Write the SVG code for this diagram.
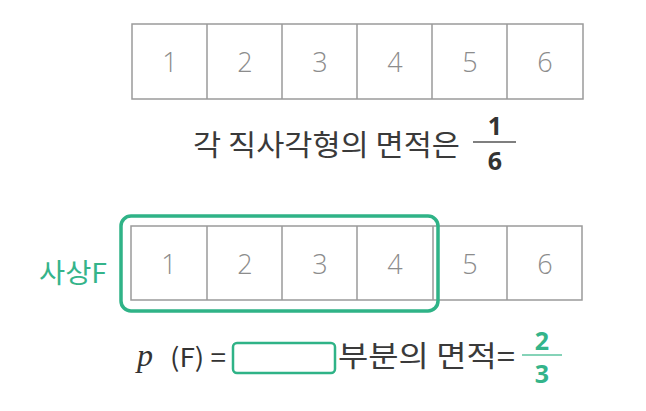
<svg xmlns="http://www.w3.org/2000/svg" width="646" height="411" viewBox="0 0 646 411">
<style>
.cell{fill:#fff;stroke:#9a9a9a;stroke-width:1.5}
.num{font-family:"Open Sans","Noto Sans",sans-serif;font-size:27px;font-weight:300;fill:#8c8c8c;text-anchor:middle}
.kr{font-family:"Noto Sans CJK KR","Noto Sans",sans-serif;font-size:29px;fill:#3a3a3a}
.frac{font-family:"Open Sans","Noto Sans",sans-serif;font-size:25px;font-weight:700;text-anchor:middle}
.green{fill:#34b48a}
</style>
<rect width="646" height="411" fill="#fff"/>
<g id="row1">
<rect class="cell" x="132" y="24" width="451" height="75"/>
<line class="cell" x1="207" y1="24" x2="207" y2="99"/>
<line class="cell" x1="282" y1="24" x2="282" y2="99"/>
<line class="cell" x1="357" y1="24" x2="357" y2="99"/>
<line class="cell" x1="432" y1="24" x2="432" y2="99"/>
<line class="cell" x1="507" y1="24" x2="507" y2="99"/>
<text class="num" x="170" y="72">1</text>
<text class="num" x="245" y="72">2</text>
<text class="num" x="320" y="72">3</text>
<text class="num" x="395" y="72">4</text>
<text class="num" x="470" y="72">5</text>
<text class="num" x="545" y="72">6</text>
</g>
<g id="caption1">
<text class="kr" x="193" y="156" textLength="267" lengthAdjust="spacingAndGlyphs">각 직사각형의 면적은</text>
<text class="frac" x="495" y="135" fill="#333">1</text>
<line x1="473" y1="142" x2="516" y2="142" stroke="#555" stroke-width="1.5"/>
<text class="frac" x="495" y="170" fill="#333">6</text>
</g>
<g id="row2">
<rect class="cell" x="131" y="226" width="451" height="74"/>
<line class="cell" x1="207" y1="226" x2="207" y2="300"/>
<line class="cell" x1="282" y1="226" x2="282" y2="300"/>
<line class="cell" x1="357" y1="226" x2="357" y2="300"/>
<line class="cell" x1="433" y1="226" x2="433" y2="300"/>
<line class="cell" x1="507" y1="226" x2="507" y2="300"/>
<text class="num" x="169" y="274">1</text>
<text class="num" x="245" y="274">2</text>
<text class="num" x="320" y="274">3</text>
<text class="num" x="395" y="274">4</text>
<text class="num" x="470" y="274">5</text>
<text class="num" x="545" y="274">6</text>
</g>
<g id="eventF">
<rect x="121" y="216" width="317" height="95" rx="10" fill="none" stroke="#2fb387" stroke-width="3.5"/>
<text x="39" y="283" font-family="Noto Sans CJK KR, Noto Sans, sans-serif" font-size="27" class="green" textLength="68" lengthAdjust="spacingAndGlyphs">사상F</text>
</g>
<g id="formula">
<text x="137" y="366" font-family="Liberation Serif, serif" font-style="italic" font-size="32" fill="#333">p</text>
<text x="170" y="367" font-family="Noto Sans CJK KR, Noto Sans, sans-serif" font-size="26" fill="#333" textLength="56" lengthAdjust="spacingAndGlyphs">(F) =</text>
<rect x="233" y="343" width="102" height="30" rx="4" fill="#fff" stroke="#2fb387" stroke-width="2.5"/>
<text class="kr" x="338" y="367" textLength="177" lengthAdjust="spacingAndGlyphs">부분의 면적=</text>
<text class="frac green" x="542" y="350">2</text>
<line x1="522" y1="355" x2="562" y2="355" stroke="#5cc5a0" stroke-width="1.5"/>
<text class="frac green" x="542" y="383">3</text>
</g>
</svg>
